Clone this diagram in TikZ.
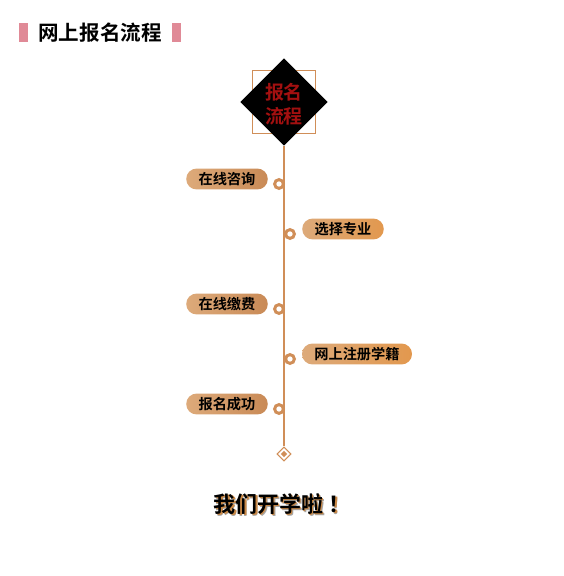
\documentclass[tikz,border=0pt]{standalone}
\usepackage{fontspec}
\newfontfamily\cjk[BoldFont={Noto Sans CJK SC Bold}]{Noto Sans CJK SC}
\usetikzlibrary{shapes.geometric}
\definecolor{tanline}{HTML}{D08E58}
\definecolor{pinkbar}{HTML}{E08A97}
\definecolor{pillleft}{HTML}{DDAA7A}
\definecolor{pillright}{HTML}{C98A56}
\definecolor{pillorange}{HTML}{E2984E}
\definecolor{headred}{HTML}{A31010}
\newcommand{\shadowed}[1]{\makebox[0pt][l]{\hspace{1.4pt}\raisebox{-1.6pt}{\color{black!35}#1}}%
  \makebox[0pt][l]{\hspace{0.9pt}\raisebox{-1.1pt}{\color{pillorange!90!black}#1}}#1}
\tikzset{
  pill/.style={rounded corners=5.9pt, minimum height=11.9pt, inner xsep=7pt, inner ysep=0pt,
    left color=pillleft, right color=pillright, font=\cjk\bfseries\fontsize{8.1}{9}\selectfont},
  pillr/.style={pill, right color=pillorange},
  ring/.style={circle, draw=tanline, line width=1.7pt, fill=white, minimum size=5pt, inner sep=0pt},
  bar/.style={fill=pinkbar}
}
\begin{document}
\begin{tikzpicture}[x=0.02cm,y=-0.02cm]
\useasboundingbox (0,0) rectangle (564,576);
% title
\fill[bar] (19,23) rectangle (28,42);
\fill[bar] (172,23) rectangle (181,42);
\node[font=\cjk\bfseries\fontsize{11.7}{13}\selectfont] (title) at (100,33) {网上报名流程};
% head
\node[draw=tanline, line width=0.5pt, minimum size=35.7pt, inner sep=0pt] (frame) at (284,102) {};
\node[diamond, fill=black, minimum size=49.9pt, aspect=1, inner sep=0pt] (head) at (284,102) {};
\node[align=center, text=headred, font=\cjk\bfseries\fontsize{10.8}{13.6}\selectfont] (headtxt) at (284,104) {报名\\流程};
% tail
\node[diamond, draw=tanline, fill=white, line width=0.6pt, minimum size=8pt, aspect=1, inner sep=0pt] (tail) at (284,454) {};
\node[diamond, fill=tanline, minimum size=3.8pt, aspect=1, inner sep=0pt] (tailin) at (284,454) {};
\draw[tanline, line width=0.6pt] (head.south) -- (tail.north);
% steps
\node[ring] (r1) at (279,184) {};
\node[ring] (r2) at (290,234) {};
\node[ring] (r3) at (279,309) {};
\node[ring] (r4) at (290,359) {};
\node[ring] (r5) at (279,409) {};
\node[pill] (s1) at (227,179) {在线咨询};
\node[pillr] (s2) at (343,229) {选择专业};
\node[pill] (s3) at (227,304) {在线缴费};
\node[pillr] (s4) at (357,354) {网上注册学籍};
\node[pill] (s5) at (227,404) {报名成功};
% closing line
\node[text=black, font=\cjk\bfseries\fontsize{12.5}{14}\selectfont] (end) at (282,505) {\shadowed{我们开学啦\hspace{3pt}！}};
\end{tikzpicture}
\end{document}
